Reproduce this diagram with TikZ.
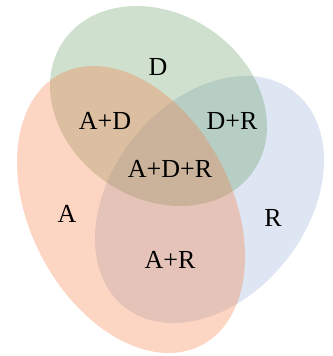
\documentclass[tikz,border=0pt]{standalone}
\usepackage{fontspec}
\setmainfont{Liberation Serif}
\definecolor{blueC}{RGB}{142,172,212}
\definecolor{greenC}{RGB}{95,152,92}
\definecolor{orangeC}{RGB}{248,115,55}
\tikzset{
  setfill/.style={fill opacity=0.3},
  lbl/.style={font=\fontsize{26}{31}\selectfont, inner sep=0pt, text=black}
}
\begin{document}
\begin{tikzpicture}[x=1pt,y=-1pt]
\useasboundingbox (0,0) rectangle (332,356);
\fill[blueC, setfill, rotate around={51.7:(209.5,199.5)}] (209.5,199.5) ellipse [x radius=137.1pt, y radius=97.8pt];
\fill[greenC, setfill, rotate around={-34:(158.5,106)}] (158.5,106) ellipse [x radius=115.1pt, y radius=92.3pt];
\fill[orangeC, setfill, rotate around={-62.6:(131,209.5)}] (131,209.5) ellipse [x radius=152.9pt, y radius=101pt];
\node[lbl] (d) at (158,67) {D};
\node[lbl] (ad) at (105,121) {A+D};
\node[lbl] (dr) at (232,121) {D+R};
\node[lbl] (adr) at (170,169) {A+D+R};
\node[lbl] (a) at (67,214) {A};
\node[lbl] (r) at (273,218) {R};
\node[lbl] (ar) at (170,260) {A+R};
\end{tikzpicture}
\end{document}
